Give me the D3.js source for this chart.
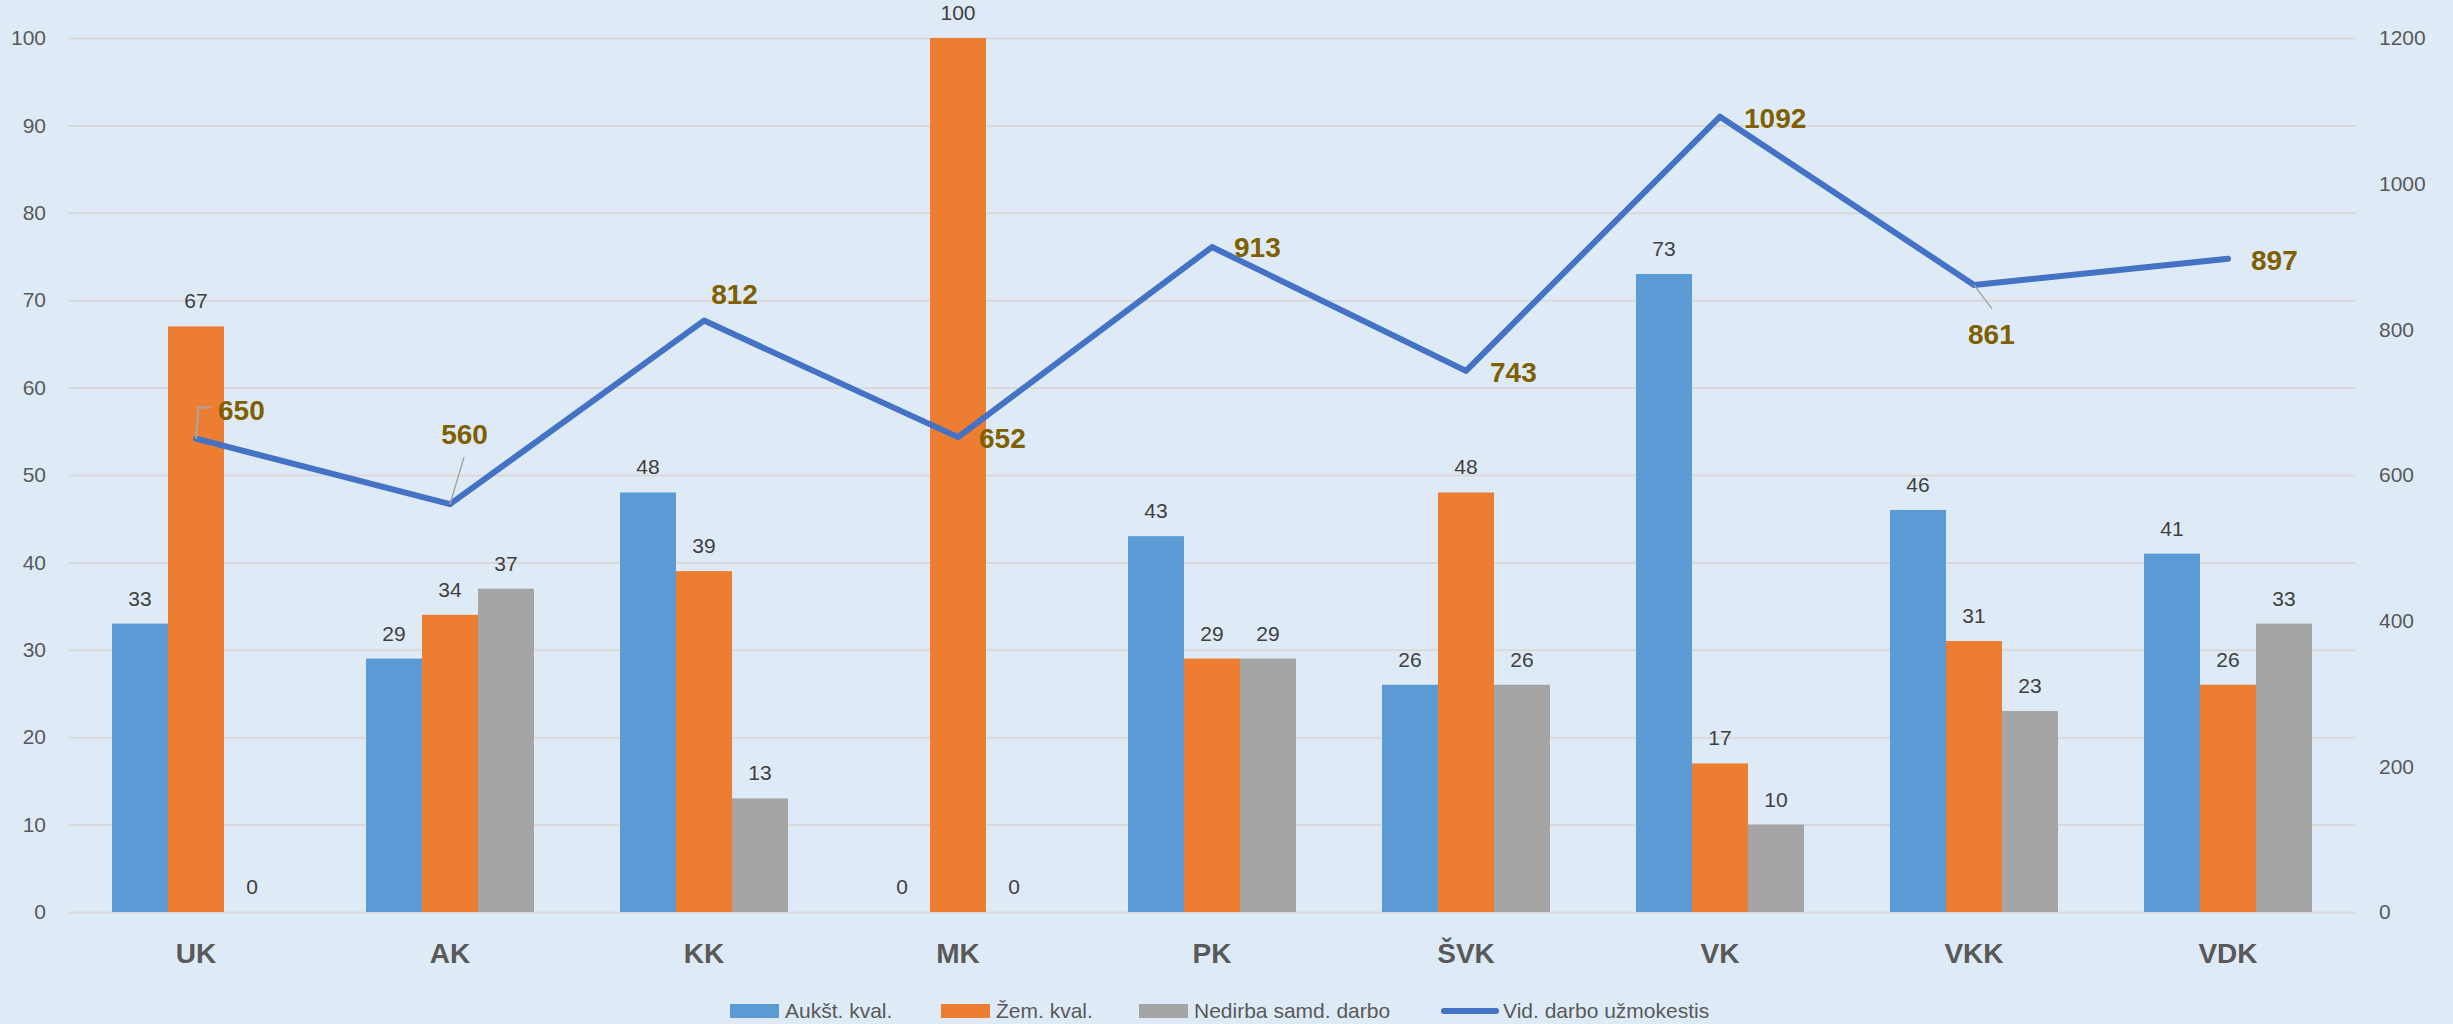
<!DOCTYPE html>
<html>
<head>
<meta charset="utf-8">
<script src="https://cdn.jsdelivr.net/npm/d3@7"></script>
<style>
  html, body { margin: 0; padding: 0; background: #DEEBF7; }
  svg { display: block; }
  text { font-family: "Liberation Sans", Arial, sans-serif; }
</style>
</head>
<body>
<svg id="chart" width="2453" height="1024"></svg>
<script>
// ---- data ----
const categories = ["UK", "AK", "KK", "MK", "PK", "ŠVK", "VK", "VKK", "VDK"];
const seriesNames = ["Aukšt. kval.", "Žem. kval.", "Nedirba samd. darbo"];
const aukstKval = [33, 29, 48, 0, 43, 26, 73, 46, 41];
const zemKval = [67, 34, 39, 100, 29, 48, 17, 31, 26];
const nedirba = [0, 37, 13, 0, 29, 26, 10, 23, 33];
const lineName = "Vid. darbo užmokestis";
const atlyginimas = [650, 560, 812, 652, 913, 743, 1092, 861, 897];
const leftTicks = [0, 10, 20, 30, 40, 50, 60, 70, 80, 90, 100];
const rightTicks = [0, 200, 400, 600, 800, 1000, 1200];

// ---- layout / style ----
const colors = ["#5B9BD5", "#ED7D31", "#A5A5A5"];
const lineColor = "#4472C4";
const labelColor = "#7F6000";
const plotLeft = 69, plotRight = 2355, plotTop = 38, plotBottom = 912;
// label placement relative to the line point: [dx, dy, anchor, leader]
const lineLabelPos = [
  [22, -19, "start", "elbow"],
  [14.5, -60, "middle", "straight"],
  [30.5, -16.5, "middle", null],
  [21, 11, "start", null],
  [22, 10, "start", null],
  [24, 11, "start", null],
  [24, 11, "start", null],
  [-6, 59, "start", "down"],
  [23, 11, "start", null]
];

const svg = d3.select("#chart");
svg.append("rect").attr("width", 2453).attr("height", 1024).attr("fill", "#DEEBF7");

const x0 = d3.scaleBand().domain(categories).range([plotLeft, plotRight]);
const groupW = 168;
const x1 = d3.scaleBand().domain(seriesNames).range([0, groupW]);
const y = d3.scaleLinear().domain([0, 100]).range([plotBottom, plotTop]);
const y2 = d3.scaleLinear().domain([0, 1200]).range([plotBottom, plotTop]);

// gridlines
const grid = svg.append("g").attr("transform", `translate(${plotLeft},0)`)
  .call(d3.axisRight(y).tickValues(leftTicks).tickSize(plotRight - plotLeft).tickFormat(""));
grid.select(".domain").remove();
grid.selectAll("line").attr("stroke", "#D9D9D9").attr("stroke-width", 2);

// left axis
const la = svg.append("g").attr("transform", `translate(46,0)`)
  .call(d3.axisLeft(y).tickValues(leftTicks).tickSize(0).tickPadding(0).tickFormat(d3.format("d")));
la.select(".domain").remove();
la.selectAll("text").attr("fill", "#595959").attr("font-size", 21)
  .attr("font-family", "Liberation Sans, Arial, sans-serif");

// right axis
const ra = svg.append("g").attr("transform", `translate(2379,0)`)
  .call(d3.axisRight(y2).tickValues(rightTicks).tickSize(0).tickPadding(0).tickFormat(d3.format("d")));
ra.select(".domain").remove();
ra.selectAll("text").attr("fill", "#595959").attr("font-size", 21)
  .attr("font-family", "Liberation Sans, Arial, sans-serif");

// bars
const seriesData = [aukstKval, zemKval, nedirba];
const off = (x0.bandwidth() - groupW) / 2;
seriesData.forEach((vals, si) => {
  const g = svg.append("g");
  g.selectAll("rect").data(vals).join("rect")
    .attr("x", (d, i) => x0(categories[i]) + off + x1(seriesNames[si]))
    .attr("width", x1.bandwidth())
    .attr("y", d => y(d))
    .attr("height", d => y(0) - y(d))
    .attr("fill", colors[si]);
  g.selectAll("text").data(vals).join("text")
    .attr("x", (d, i) => x0(categories[i]) + off + x1(seriesNames[si]) + x1.bandwidth() / 2)
    .attr("y", d => y(d) - 18)
    .attr("text-anchor", "middle")
    .attr("font-size", 21)
    .attr("fill", "#404040")
    .text(d => d);
});

// category labels
svg.append("g").selectAll("text").data(categories).join("text")
  .attr("x", d => x0(d) + x0.bandwidth() / 2)
  .attr("y", 963)
  .attr("text-anchor", "middle")
  .attr("font-size", 28)
  .attr("font-weight", "bold")
  .attr("fill", "#595959")
  .text(d => d);

// line
const cx = (i) => x0(categories[i]) + x0.bandwidth() / 2;
const line = d3.line().x((d, i) => cx(i)).y(d => y2(d));
svg.append("path").datum(atlyginimas)
  .attr("d", line)
  .attr("fill", "none")
  .attr("stroke", lineColor)
  .attr("stroke-width", 6)
  .attr("stroke-linejoin", "round")
  .attr("stroke-linecap", "round");

// leader lines and labels
const lg = svg.append("g");
atlyginimas.forEach((v, i) => {
  const px = cx(i), py = y2(v);
  const [dx, dy, anchor, leader] = lineLabelPos[i];
  if (leader === "elbow") {
    lg.append("path").attr("d", `M${px},${py} L${px + 2.5},${py - 31} L${px + 14.5},${py - 31}`)
      .attr("fill", "none").attr("stroke", "#A6A6A6").attr("stroke-width", 2);
  } else if (leader === "straight") {
    lg.append("line").attr("x1", px).attr("y1", py).attr("x2", px + 14).attr("y2", py - 47)
      .attr("stroke", "#A6A6A6").attr("stroke-width", 1.5);
  } else if (leader === "down") {
    lg.append("line").attr("x1", px).attr("y1", py).attr("x2", px + 18).attr("y2", py + 24)
      .attr("stroke", "#A6A6A6").attr("stroke-width", 1.5);
  }
  lg.append("text")
    .attr("x", px + dx).attr("y", py + dy)
    .attr("text-anchor", anchor)
    .attr("font-size", 28)
    .attr("font-weight", "bold")
    .attr("fill", labelColor)
    .text(v);
});

// legend
const legendX = [730, 941, 1139, 1442];
const legend = svg.append("g");
seriesNames.forEach((n, i) => {
  legend.append("rect").attr("x", legendX[i]).attr("y", 1004).attr("width", 49).attr("height", 14)
    .attr("fill", colors[i]);
  legend.append("text").attr("x", legendX[i] + 55).attr("y", 1018)
    .attr("font-size", 21).attr("fill", "#595959").text(n);
});
legend.append("line").attr("x1", legendX[3] + 2).attr("x2", legendX[3] + 54)
  .attr("y1", 1011).attr("y2", 1011)
  .attr("stroke", lineColor).attr("stroke-width", 6).attr("stroke-linecap", "round");
legend.append("text").attr("x", legendX[3] + 61).attr("y", 1018)
  .attr("font-size", 21).attr("fill", "#595959").text(lineName);
</script>
</body>
</html>
